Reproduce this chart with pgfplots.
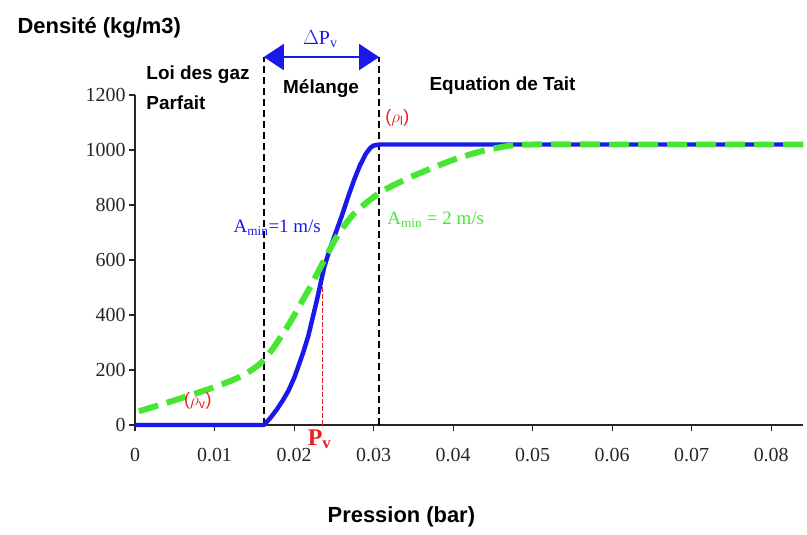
\documentclass[border=0pt]{standalone}
\usepackage{fontspec}
\setmainfont{Liberation Serif}
\setsansfont{Liberation Sans}
\usepackage{pgfplots}
\pgfplotsset{compat=1.18}
\usetikzlibrary{arrows.meta}
\definecolor{myblue}{RGB}{25,25,235}
\definecolor{mygreen}{RGB}{70,230,50}
\definecolor{myred}{RGB}{235,30,30}
\newcommand{\lab}{\sffamily\bfseries\fontsize{19}{21}\selectfont}
\begin{document}
\begin{tikzpicture}
\path[use as bounding box] (0,0) rectangle (807bp,535bp);
\begin{axis}[
  at={(135bp,110bp)}, anchor=south west,
  scale only axis, width=668bp, height=330bp,
  xmin=0, xmax=0.084, ymin=0, ymax=1200,
  axis lines=left, axis line style={-, line width=1.3pt, black!85},
  tick align=outside, major tick length=6bp,
  tick style={line width=1.1pt, black!85},
  scaled x ticks=false, scaled y ticks=false,
  xtick={0,0.01,0.02,0.03,0.04,0.05,0.06,0.07,0.08},
  xticklabels={0,0.01,0.02,0.03,0.04,0.05,0.06,0.07,0.08},
  ytick={0,200,400,600,800,1000,1200},
  yticklabels={0,200,400,600,800,1000,1200},
  /pgf/number format/1000 sep={},
  tick label style={font=\fontsize{20}{20}\selectfont, text=black!85},
  /pgf/number format/assume math mode=true,
  xticklabel shift=14bp,
  clip=false,
]
% vertical dashed region limits
\addplot[black, line width=2.4pt, dash pattern=on 7bp off 4bp] coordinates {(0.0162,0) (0.0162,1338)};
\addplot[black, line width=2.4pt, dash pattern=on 7bp off 4bp] coordinates {(0.0307,0) (0.0307,1338)};
% red Pv line
\addplot[myred, line width=0.8pt, dash pattern=on 5bp off 2bp] coordinates {(0.0236,0) (0.0236,600)};
% blue curve A=1 m/s
\addplot[myblue, line width=4.5pt, line join=round] coordinates {
(0,0) (0.0162,0) (0.0170,25) (0.0178,55) (0.0186,90) (0.0193,125) (0.0200,170) (0.0205,210)
(0.0212,268) (0.0218,325) (0.0223,385) (0.0228,445) (0.0233,510) (0.0238,575) (0.0244,630)
(0.0250,680) (0.0255,720) (0.0260,760) (0.0268,830) (0.0276,895) (0.0283,945) (0.0290,985)
(0.0296,1008) (0.0300,1016) (0.0307,1020) (0.084,1020)};
% green curve A=2 m/s
\addplot[mygreen, line width=6pt, dash pattern=on 20bp off 9bp, smooth, tension=0.5] coordinates {
(0.0005,50) (0.005,90) (0.010,138) (0.0135,180) (0.0162,236) (0.019,350) (0.0218,490)
(0.0238,600) (0.0255,690) (0.0276,770) (0.0307,843) (0.0338,890) (0.037,930) (0.040,964)
(0.0435,995) (0.047,1015) (0.050,1020) (0.060,1020) (0.070,1020) (0.084,1020)};
% arrow Delta Pv
\draw[myblue, line width=2pt, {Triangle[length=20bp,width=26bp]}-{Triangle[length=20bp,width=26bp]}]
  (axis cs:0.0162,1338) -- (axis cs:0.0307,1338);
\node[myblue, font=\fontsize{20}{20}\selectfont] at (axis cs:0.0233,1405) {$\Delta$P\textsubscript{v}};
% region labels
\node[anchor=west, font=\lab] at (axis cs:0.0010,1273) {Loi des gaz};
\node[anchor=west, font=\lab] at (axis cs:0.0010,1171) {Parfait};
\node[font=\lab] at (axis cs:0.0234,1225) {Mélange};
\node[anchor=west, font=\lab] at (axis cs:0.0366,1233) {Equation de Tait};
% densities
\node[myred, font=\sffamily\fontsize{18}{18}\selectfont] at (axis cs:0.0330,1116) {($\rho$\textsubscript{l})};
\node[myred, font=\sffamily\fontsize{18}{18}\selectfont] at (axis cs:0.0079,88) {($\rho$\textsubscript{v})};
% celerity labels
\node[anchor=east, myblue, font=\fontsize{19}{19}\selectfont] at (axis cs:0.0238,716) {A\textsubscript{min}=1 m/s};
\node[anchor=west, mygreen, font=\fontsize{19}{19}\selectfont] at (axis cs:0.0313,745) {A\textsubscript{min} = 2 m/s};
\node[myred, font=\bfseries\fontsize{24}{24}\selectfont] at (axis cs:0.0232,-52) {P\textsubscript{v}};
% axis titles
\node[anchor=west, font=\sffamily\bfseries\fontsize{22}{22}\selectfont] at (axis cs:-0.0152,1444) {Densité (kg/m3)};
\node[font=\sffamily\bfseries\fontsize{22}{22}\selectfont] at (axis cs:0.0335,-335) {Pression (bar)};
\end{axis}
\end{tikzpicture}
\end{document}
